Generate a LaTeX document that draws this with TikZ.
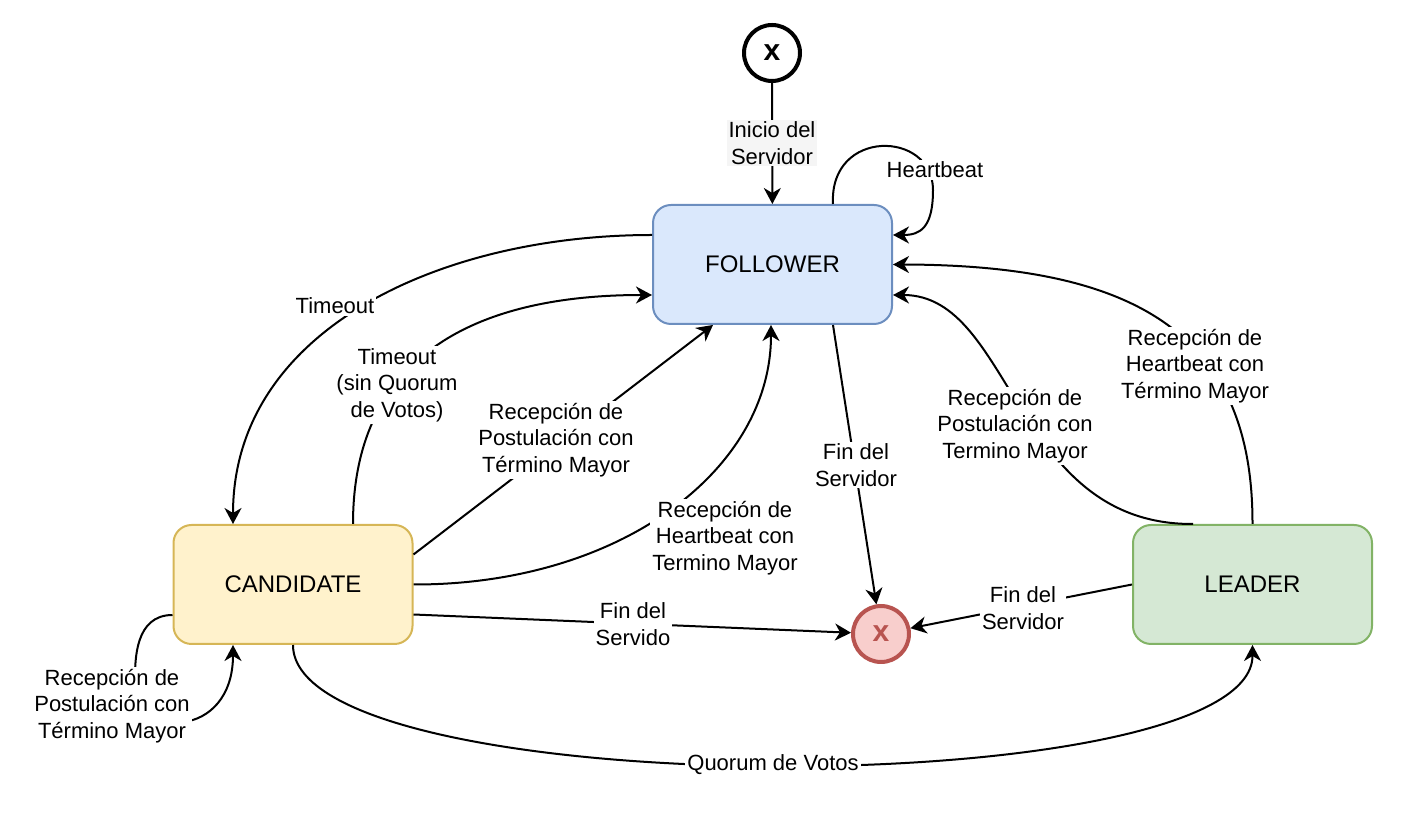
\documentclass[tikz,border=0pt]{standalone}
\usepackage{fontspec}
\setmainfont{Liberation Sans}
\usetikzlibrary{arrows.meta,calc}
\definecolor{follF}{HTML}{DAE8FC}\definecolor{follD}{HTML}{6C8EBF}
\definecolor{candF}{HTML}{FFF2CC}\definecolor{candD}{HTML}{D6B656}
\definecolor{leadF}{HTML}{D5E8D4}\definecolor{leadD}{HTML}{82B366}
\definecolor{endF}{HTML}{F8CECC}\definecolor{endD}{HTML}{B85450}
\tikzset{
  statebox/.style={draw, line width=1pt, rounded corners=9pt, minimum width=119.5pt, minimum height=59.5pt, font=\fontsize{12}{14}\selectfont},
  endpt/.style={circle, line width=2pt, minimum size=28pt, inner sep=0pt, font=\fontsize{15}{17}\selectfont\bfseries},
  edge/.style={line width=1pt, -{Stealth[length=8pt,width=8.5pt,inset=2.5pt]}},
  lbl/.style={fill=white, align=center, inner sep=1pt, font=\fontsize{11}{13.2}\selectfont}
}
\begin{document}
\begin{tikzpicture}[x=0.5pt,y=-0.5pt]
\useasboundingbox (0,0) rectangle (1410,822);
\node[endpt, draw=black, fill=white] (start) at (772,53) {x};
\node[statebox, fill=follF, draw=follD] (foll) at (772.5,264.5) {FOLLOWER};
\node[statebox, fill=candF, draw=candD] (cand) at (293,584.5) {CANDIDATE};
\node[statebox, fill=leadF, draw=leadD] (lead) at (1252.5,584.5) {LEADER};
\node[endpt, draw=endD, fill=endF, text=endD] (fin) at (881,634) {x};

% start -> follower
\draw[edge] (start) -- (foll);
\node[lbl, fill=black!4] (l1) at (772,143) {Inicio del\\Servidor};

% heartbeat loop
\coordinate (hb1) at ($(foll.north)+(60.5,0)$);
\coordinate (hb2) at ($(foll.east)+(0,-29.5)$);
\draw[edge] (hb1) .. controls (829,128) and (933,130) .. (933,190) .. controls (933,228) and (920,235) .. (hb2);
\node[lbl] (l2) at (935,170) {Heartbeat};

% timeout follower -> candidate
\coordinate (t1) at ($(foll.west)+(0,-29.5)$);
\coordinate (t2) at ($(cand.north)+(-60,0)$);
\draw[edge] (t1) .. controls (440,235) and (233,330) .. (t2);
\node[lbl] (l3) at (335,306) {Timeout};

% timeout sin quorum candidate -> follower
\coordinate (q1) at ($(cand.north)+(60,0)$);
\coordinate (q2) at ($(foll.west)+(0,30.5)$);
\draw[edge] (q1) .. controls (353,360) and (470,295) .. (q2);
\node[lbl] (l4) at (397,385) {Timeout\\(sin Quorum\\de Votos)};

% postulacion candidate -> follower
\coordinate (p1) at ($(cand.east)+(0,-30)$);
\coordinate (p2) at ($(foll.south)+(-59.5,0)$);
\draw[edge] (p1) -- (p2);
\node[lbl] (l5) at (556,440) {Recepción de\\Postulación con\\Término Mayor};

% heartbeat candidate -> follower
\coordinate (h2) at ($(foll.south)+(-1.5,0)$);
\draw[edge] (cand.east) .. controls (620,585) and (771,470) .. (h2);
\node[lbl] (l6) at (725,538) {Recepción de\\Heartbeat con\\Termino Mayor};

% fin del servidor follower -> end
\coordinate (f1) at ($(foll.south)+(60.5,0)$);
\draw[edge] (f1) -- (fin);
\node[lbl] (l7) at (856,465) {Fin del\\Servidor};

% fin del servido candidate -> end
\coordinate (c1) at ($(cand.east)+(0,30)$);
\draw[edge] (c1) -- (fin);
\node[lbl] (l8) at (633,624) {Fin del\\Servido};

% fin del servidor leader -> end
\draw[edge] (lead.west) -- (fin);
\node[lbl] (l9) at (1023,608) {Fin del\\Servidor};

% leader postulacion -> follower
\coordinate (lp1) at ($(lead.north)+(-59.5,0)$);
\coordinate (lp2) at ($(foll.east)+(0,30.5)$);
\draw[edge] (lp1) .. controls (1013,525) and (1013,295) .. (lp2);
\node[lbl] (l10) at (1015,426) {Recepción de\\Postulación con\\Termino Mayor};

% leader heartbeat -> follower
\draw[edge] (lead.north) .. controls (1253,330) and (1130,265) .. (foll.east);
\node[lbl] (l11) at (1195,366) {Recepción de\\Heartbeat con\\Término Mayor};

% candidate self loop
\coordinate (s1) at ($(cand.west)+(0,30.5)$);
\coordinate (s2) at ($(cand.south)+(-60,0)$);
\draw[edge] (s1) .. controls (135,615) and (135,660) .. (135,680) .. controls (135,740) and (233,740) .. (s2);
\node[lbl] (l12) at (112,706) {Recepción de\\Postulación con\\Término Mayor};

% quorum candidate -> leader
\draw[edge] (cand.south) .. controls (293,805) and (1253,805) .. (lead.south);
\node[lbl] (l13) at (773,765) {Quorum de Votos};
\end{tikzpicture}
\end{document}
